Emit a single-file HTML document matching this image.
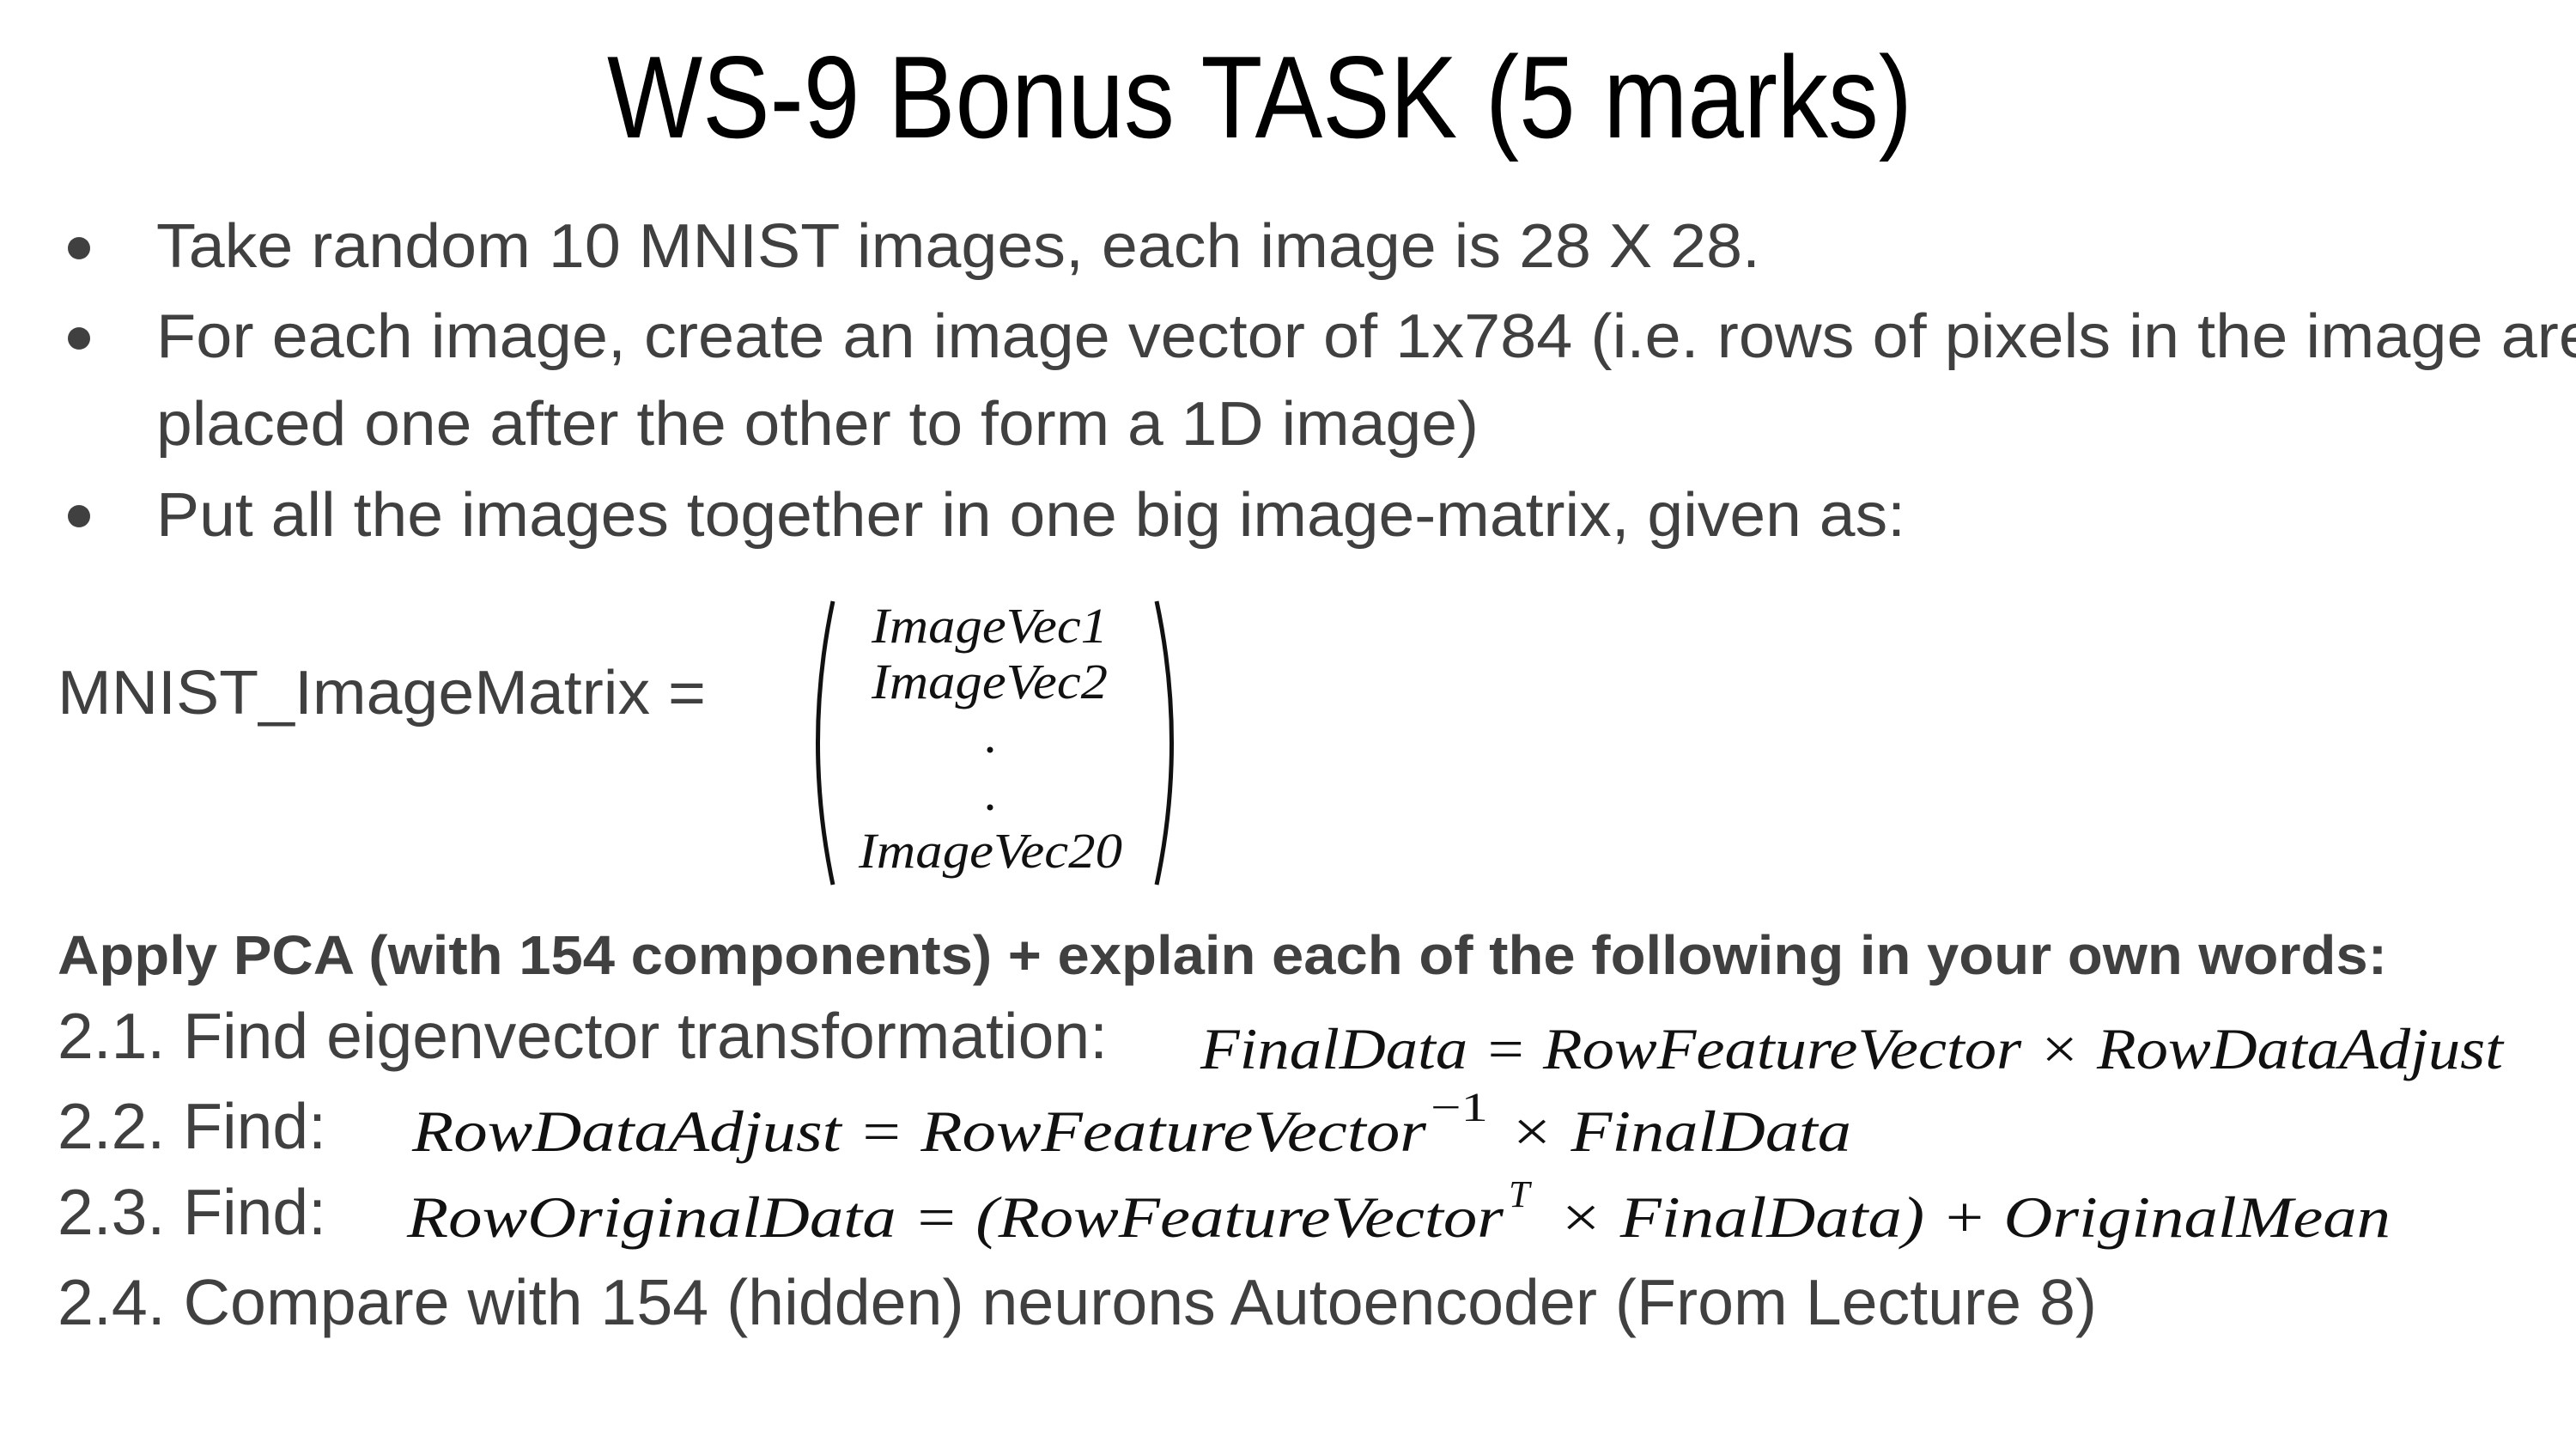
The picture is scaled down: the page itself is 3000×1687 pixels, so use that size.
<!DOCTYPE html>
<html><head><meta charset="utf-8"><style>html,body{margin:0;padding:0;background:#fff}svg{display:block}</style></head>
<body>
<svg width="3000" height="1687" viewBox="0 0 3000 1687" xmlns="http://www.w3.org/2000/svg">
<rect width="3000" height="1687" fill="#fff"/>
<g font-family="Liberation Sans, Arial, sans-serif">
<text x="707" y="160" font-size="136" fill="#000" textLength="1520" lengthAdjust="spacingAndGlyphs">WS-9 Bonus TASK (5 marks)</text>
<g fill="#404040" font-size="72">
<circle cx="92" cy="289" r="13"/>
<circle cx="92" cy="394" r="13"/>
<circle cx="92" cy="601" r="13"/>
<text x="182" y="311" textLength="1868" lengthAdjust="spacingAndGlyphs">Take random 10 MNIST images, each image is 28 X 28.</text>
<text x="182" y="416" textLength="2840" lengthAdjust="spacingAndGlyphs">For each image, create an image vector of 1x784 (i.e. rows of pixels in the image are</text>
<text x="182" y="518" textLength="1540" lengthAdjust="spacingAndGlyphs">placed one after the other to form a 1D image)</text>
<text x="182" y="624" textLength="2037" lengthAdjust="spacingAndGlyphs">Put all the images together in one big image-matrix, given as:</text>
<text x="67" y="831" textLength="755" lengthAdjust="spacingAndGlyphs">MNIST_ImageMatrix =</text>
<text x="67" y="1134" font-size="64" font-weight="bold" textLength="2713" lengthAdjust="spacingAndGlyphs">Apply PCA (with 154 components) + explain each of the following in your own words:</text>
<text x="67" y="1232" font-size="75" textLength="1223" lengthAdjust="spacingAndGlyphs">2.1. Find eigenvector transformation:</text>
<text x="67" y="1337" font-size="75" textLength="313" lengthAdjust="spacingAndGlyphs">2.2. Find:</text>
<text x="67" y="1437" font-size="75" textLength="313" lengthAdjust="spacingAndGlyphs">2.3. Find:</text>
<text x="67" y="1542" font-size="75" textLength="2375" lengthAdjust="spacingAndGlyphs">2.4. Compare with 154 (hidden) neurons Autoencoder (From Lecture 8)</text>
</g>
</g>
<g font-family="Liberation Serif, DejaVu Serif, serif" font-style="italic" fill="#111">
<path d="M970,700 Q935,865 970,1030" stroke="#111" stroke-width="5" fill="none"/>
<path d="M1347,700 Q1382,865 1347,1030" stroke="#111" stroke-width="5" fill="none"/>
<text x="1015" y="748" font-size="58" textLength="275" lengthAdjust="spacingAndGlyphs">ImageVec1</text>
<text x="1015" y="813" font-size="58" textLength="275" lengthAdjust="spacingAndGlyphs">ImageVec2</text>
<circle cx="1153" cy="873" r="3.5"/>
<circle cx="1153" cy="940" r="3.5"/>
<text x="1000" y="1010" font-size="58" textLength="307" lengthAdjust="spacingAndGlyphs">ImageVec20</text>
<text x="1398" y="1244" font-size="68" textLength="1517" lengthAdjust="spacingAndGlyphs">FinalData = RowFeatureVector × RowDataAdjust</text>
<text x="480" y="1340" font-size="68" textLength="1181" lengthAdjust="spacingAndGlyphs">RowDataAdjust = RowFeatureVector</text>
<text x="1666" y="1305" font-size="48" font-style="normal" textLength="67" lengthAdjust="spacingAndGlyphs">−1</text>
<text x="1757" y="1340" font-size="68" textLength="399" lengthAdjust="spacingAndGlyphs">× FinalData</text>
<text x="474" y="1440" font-size="68" textLength="1277" lengthAdjust="spacingAndGlyphs">RowOriginalData = (RowFeatureVector</text>
<text x="1757" y="1405" font-size="44">T</text>
<text x="1814" y="1440" font-size="68" textLength="970" lengthAdjust="spacingAndGlyphs">× FinalData) + OriginalMean</text>
</g>
</svg>
</body></html>
